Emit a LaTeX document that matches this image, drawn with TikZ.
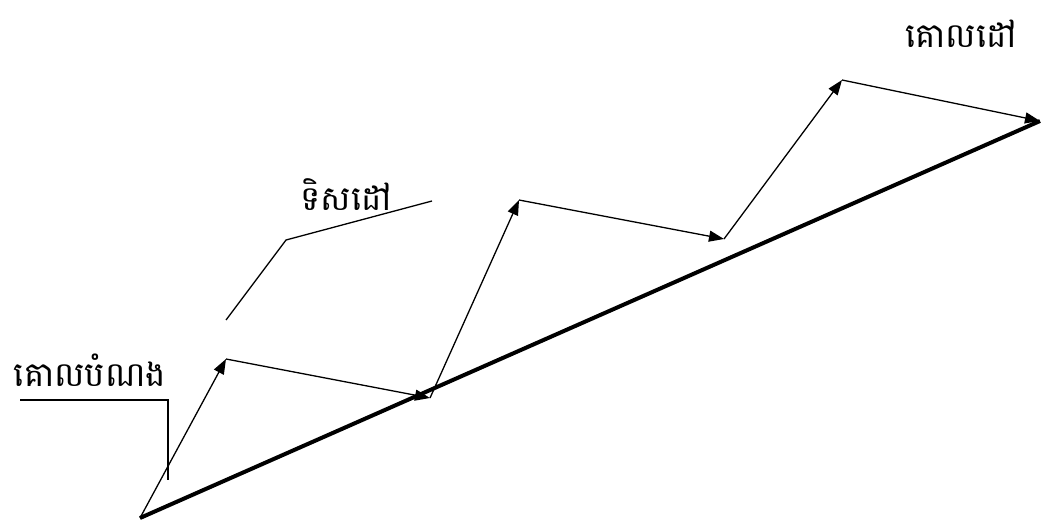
\documentclass[tikz,border=0pt]{standalone}
\usepackage{fontspec}
\newfontfamily\khmerfont[Script=Khmer]{Battambang}
\usetikzlibrary{arrows.meta}

\begin{document}
\begin{tikzpicture}[x=1pt,y=-1pt,
  vec/.style={line width=1.3pt, -{Triangle[length=15pt,width=11pt]}},
  lead/.style={line width=1.3pt},
  lbl/.style={font=\khmerfont\fontsize{34}{40}\selectfont, inner sep=0pt}]
\useasboundingbox (0,0) rectangle (1055,529);
% Points of the path
\coordinate (s) at (140,518);
\coordinate (p1) at (226,359);
\coordinate (p2) at (430,398);
\coordinate (p3) at (519,200);
\coordinate (p4) at (724,239);
\coordinate (p5) at (842,80);
\coordinate (e) at (1040,121);
% Resultant
\draw[line width=4pt] (s) -- (e);
% Steps
\draw[vec] (s) -- (p1);
\draw[vec] (p1) -- (p2);
\draw[vec] (p2) -- (p3);
\draw[vec] (p3) -- (p4);
\draw[vec] (p4) -- (p5);
\draw[vec] (p5) -- (e);
% Labels
\node[lbl] (aim) at (90,370) {គោលបំណង};
\node[lbl] (dir) at (346,195) {ទិសដៅ};
\node[lbl] (goal) at (961,34) {គោលដៅ};
% Leader lines
\coordinate (a1) at (20,400);
\coordinate (a2) at (168,400);
\coordinate (a3) at (168,480);
\draw[lead] (a1) -- (a2) -- (a3);
\coordinate (d1) at (226,320);
\coordinate (d2) at (286,240);
\coordinate (d3) at (432,201);
\draw[lead] (d1) -- (d2) -- (d3);
\end{tikzpicture}
\end{document}
